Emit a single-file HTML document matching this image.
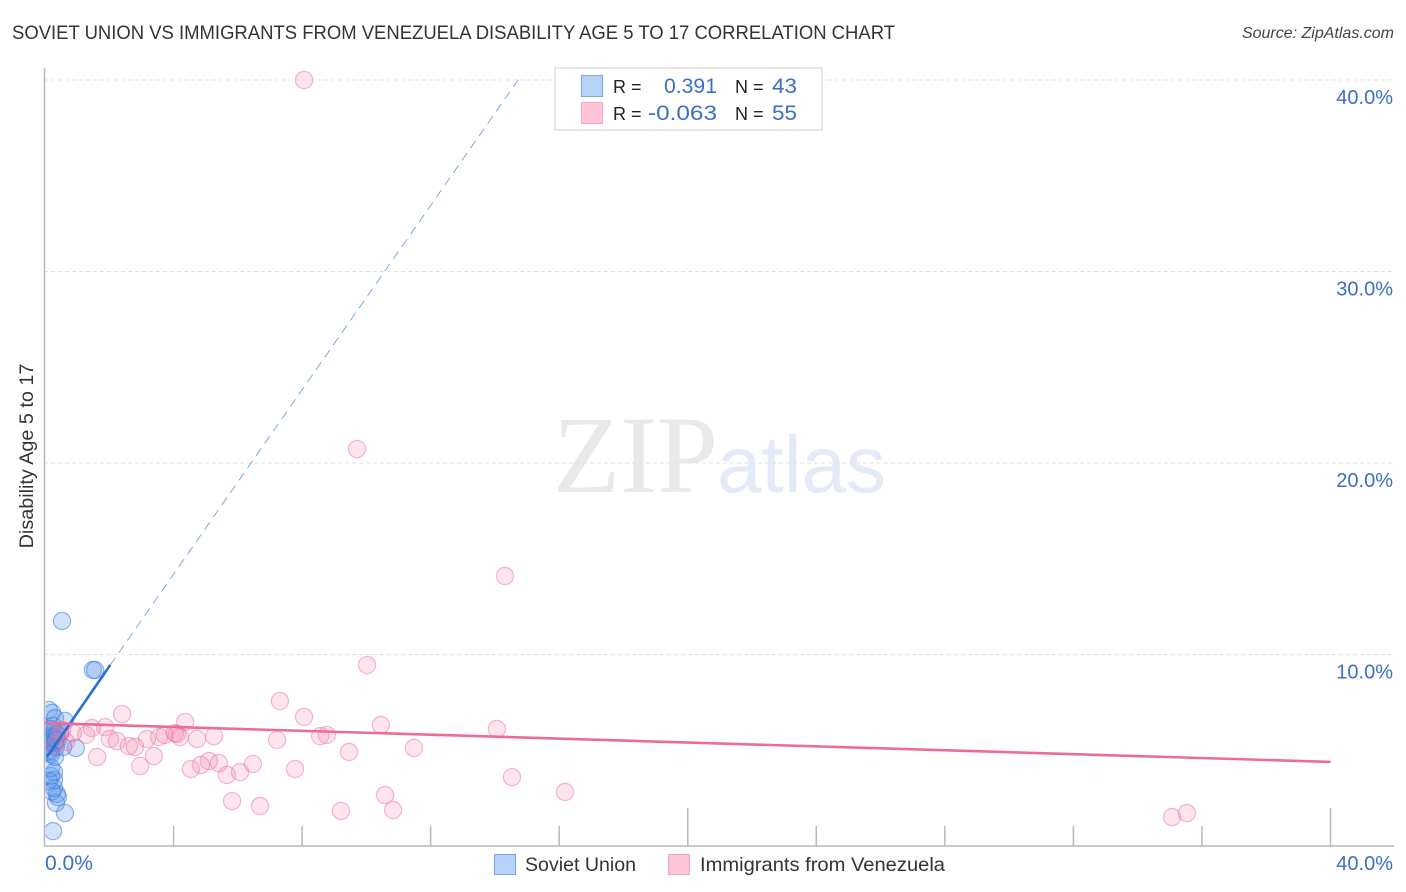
<!DOCTYPE html>
<html>
<head>
<meta charset="utf-8">
<title>Soviet Union vs Immigrants from Venezuela Disability Age 5 to 17 Correlation Chart</title>
<style>
html,body{margin:0;padding:0;background:#fff;width:1406px;height:892px;overflow:hidden}
svg{display:block}
text{font-family:"Liberation Sans",sans-serif}
</style>
</head>
<body>
<svg id="chart" width="1406" height="892" viewBox="0 0 1406 892" xmlns="http://www.w3.org/2000/svg">
  <defs><clipPath id="plot-clip"><rect x="45.5" y="60" width="1350" height="786"/></clipPath></defs>
  <text x="12" y="39" font-size="19.5" fill="#333" textLength="883" lengthAdjust="spacingAndGlyphs">SOVIET UNION VS IMMIGRANTS FROM VENEZUELA DISABILITY AGE 5 TO 17 CORRELATION CHART</text>
  <text x="1394" y="38" font-size="16" font-style="italic" fill="#444" text-anchor="end">Source: ZipAtlas.com</text>
  <g id="watermark">
    <text x="553" y="492" font-size="110" fill="#e9e9e9" style='font-family:"Liberation Serif",serif'>ZIP</text>
    <text x="717" y="492" font-size="80" fill="#e3ebf9">atlas</text>
  </g>
  <g id="grid"></g>
  <g id="axes"></g>
  <g id="points" clip-path="url(#plot-clip)"></g>
  <g id="trends"></g>
  <g id="ylabels"></g>
  <g id="xlabels"></g>
  <text transform="translate(33,456) rotate(-90)" font-size="19.8" fill="#333" text-anchor="middle">Disability Age 5 to 17</text>

  <g>
    <rect x="555" y="68" width="267" height="62" fill="#fff" stroke="#dedede" stroke-width="1.5"/>
    <rect x="581.5" y="75.5" width="21" height="21" fill="#b6d2f8" stroke="#7ba7e6" stroke-width="1"/>
    <rect x="581.5" y="102.5" width="21" height="21" fill="#fcc6d8" stroke="#f3a5bf" stroke-width="1"/>
    <text x="613" y="93" font-size="18" fill="#222">R =</text>
    <text x="664" y="93" font-size="21" fill="#3b6fc9" textLength="53" lengthAdjust="spacingAndGlyphs">0.391</text>
    <text x="735" y="93" font-size="18" fill="#222">N =</text>
    <text x="772" y="93" font-size="21" fill="#3b6fc9" textLength="25" lengthAdjust="spacingAndGlyphs">43</text>
    <text x="613" y="120" font-size="18" fill="#222">R =</text>
    <text x="648" y="120" font-size="21" fill="#3b6fc9" textLength="69" lengthAdjust="spacingAndGlyphs">-0.063</text>
    <text x="735" y="120" font-size="18" fill="#222">N =</text>
    <text x="772" y="120" font-size="21" fill="#3b6fc9" textLength="25" lengthAdjust="spacingAndGlyphs">55</text>
  </g>

  <g>
    <rect x="494.5" y="854.5" width="21" height="20" fill="#b6d2f8" stroke="#7ba7e6" stroke-width="1"/>
    <text x="525" y="871" font-size="19.5" fill="#333" textLength="111" lengthAdjust="spacingAndGlyphs">Soviet Union</text>
    <rect x="668.5" y="854.5" width="21" height="20" fill="#fcc6d8" stroke="#f3a5bf" stroke-width="1"/>
    <text x="700" y="871" font-size="19.5" fill="#333" textLength="245" lengthAdjust="spacingAndGlyphs">Immigrants from Venezuela</text>
  </g>
</svg>
<script>
const sovietX = [0.53,1.49,1.56,0.12,0.22,0.31,0.62,0.96,0.62,0.25,0.34,0.40,0.37,0.28,0.28,0.19,0.28,0.19,0.31,0.16,0.06,0.09,0.12,0.16,0.19,0.25,0.28,0.31,0.34,0.37,0.40,0.47,0.56,0.06,0.09,0.12,0.16,0.19,0.25,0.28,0.34,0.12,0.22];
const sovietY = [11.75,9.19,9.19,7.10,6.95,6.68,6.53,5.12,1.72,0.78,2.25,2.56,2.72,3.03,3.45,3.66,3.86,4.07,4.65,4.91,5.27,5.48,5.74,5.95,6.11,6.27,5.64,5.38,5.17,5.85,5.53,5.90,5.17,5.64,5.22,5.00,5.43,4.80,5.69,6.00,5.53,3.40,2.85];
const venezuelaX = [8.06,9.71,14.31,10.02,7.31,2.40,8.06,4.36,10.45,14.06,1.87,1.46,1.62,1.28,0.87,2.02,2.24,2.61,2.80,2.96,3.39,3.17,3.55,3.73,4.04,4.11,4.20,4.73,5.26,7.22,4.54,4.85,5.10,5.41,5.66,6.07,6.47,7.78,5.82,6.69,8.56,8.77,9.46,11.48,10.58,10.83,9.21,14.53,16.18,35.07,35.53,0.53,0.31,0.65,0.47];
const venezuelaY = [40.0,20.73,14.10,9.45,7.57,6.89,6.74,6.48,6.32,6.11,6.21,6.16,4.65,5.80,5.90,5.59,5.48,5.22,5.17,4.18,4.70,5.59,5.69,5.80,5.90,5.85,5.69,5.59,5.74,5.54,4.02,4.23,4.44,4.33,3.71,3.86,4.28,4.02,2.35,2.09,5.74,5.80,4.91,5.12,2.66,1.88,1.83,3.60,2.82,1.51,1.72,6.06,5.27,5.43,5.90];
const sovietTrendX = [0.06,2.03,14.72];
const sovietTrendY = [4.65,9.45,40.0];
const venezuelaTrendX = [0,40];
const venezuelaTrendY = [6.42,4.39];
const yTicks = [10,20,30,40];
const yTickLabels = ["10.0%","20.0%","30.0%","40.0%"];
const xTicks = [4,8,12,16,20,24,28,32,36,40];
const xMajorTicks = [20,40];
const xEndTicks = [0,40];
const xEndLabels = ["0.0%","40.0%"];

const NS = "http://www.w3.org/2000/svg";
function xScale(v){ return 45 + (v/40)*(1330.5-45); }
function yScale(v){ return 846 - (v/40)*(846-80); }
function make(tag, attrs, parent){
  const el = document.createElementNS(NS, tag);
  for (const k in attrs) el.setAttribute(k, attrs[k]);
  parent.appendChild(el);
  return el;
}
const grid = document.getElementById('grid');
const axes = document.getElementById('axes');
const points = document.getElementById('points');
const trends = document.getElementById('trends');
const ylabels = document.getElementById('ylabels');
const xlabels = document.getElementById('xlabels');

yTicks.forEach(function(t,i){
  const line = make('line',{x1:44,x2:1394,y1:yScale(t),y2:yScale(t),stroke:'#e2e2e2','stroke-width':1,'stroke-dasharray':'4 3'},grid);
  
  
  const label = make('text',{x:1393,y:yScale(t)+24,'font-size':20,fill:'#3b6fc9','text-anchor':'end'},ylabels);
  label.textContent = yTickLabels[i];
  
  
});

const yAxis = make('line',{x1:44.5,x2:44.5,y1:68,y2:846.5,stroke:'#b8b8b8','stroke-width':1.5},axes);


const xAxis = make('line',{x1:44,x2:1394,y1:846,y2:846,stroke:'#b8b8b8','stroke-width':1.5},axes);


xTicks.forEach(function(t){
  const top = xMajorTicks.indexOf(t) >= 0 ? 808 : 826;
  const tick = make('line',{x1:xScale(t),x2:xScale(t),y1:top,y2:846,stroke:'#b8b8b8','stroke-width':1.5},axes);
  
  
});
xEndTicks.forEach(function(t,i){
  const label = make('text',{x:i===0?xScale(t):1393,y:870,'font-size':i===0?21:20,fill:'#3b6fc9','text-anchor':i===0?'start':'end'},xlabels);
  label.textContent = xEndLabels[i];
  
  
});

sovietX.forEach(function(v,i){
  const c = make('circle',{cx:xScale(v),cy:yScale(sovietY[i]),r:8.6,fill:'rgba(92,150,232,0.28)',stroke:'rgba(50,120,225,0.52)','stroke-width':1.2},points);
  
  
});
venezuelaX.forEach(function(v,i){
  const c = make('circle',{cx:xScale(v),cy:yScale(venezuelaY[i]),r:8.6,fill:'rgba(245,120,165,0.2)',stroke:'rgba(235,110,155,0.48)','stroke-width':1.2},points);
  
  
});

const blueSolid = make('line',{x1:xScale(sovietTrendX[0]),y1:yScale(sovietTrendY[0]),x2:xScale(sovietTrendX[1]),y2:yScale(sovietTrendY[1]),stroke:'#2a70d0','stroke-width':2.6},trends);


const blueDash = make('line',{x1:xScale(sovietTrendX[1]),y1:yScale(sovietTrendY[1]),x2:xScale(sovietTrendX[2]),y2:yScale(sovietTrendY[2]),stroke:'#7ea8e0','stroke-width':1,'stroke-dasharray':'9 6'},trends);


const pinkLine = make('line',{x1:xScale(venezuelaTrendX[0]),y1:yScale(venezuelaTrendY[0]),x2:xScale(venezuelaTrendX[1]),y2:yScale(venezuelaTrendY[1]),stroke:'#ec6b9b','stroke-width':2.6},trends);


</script>
</body>
</html>
